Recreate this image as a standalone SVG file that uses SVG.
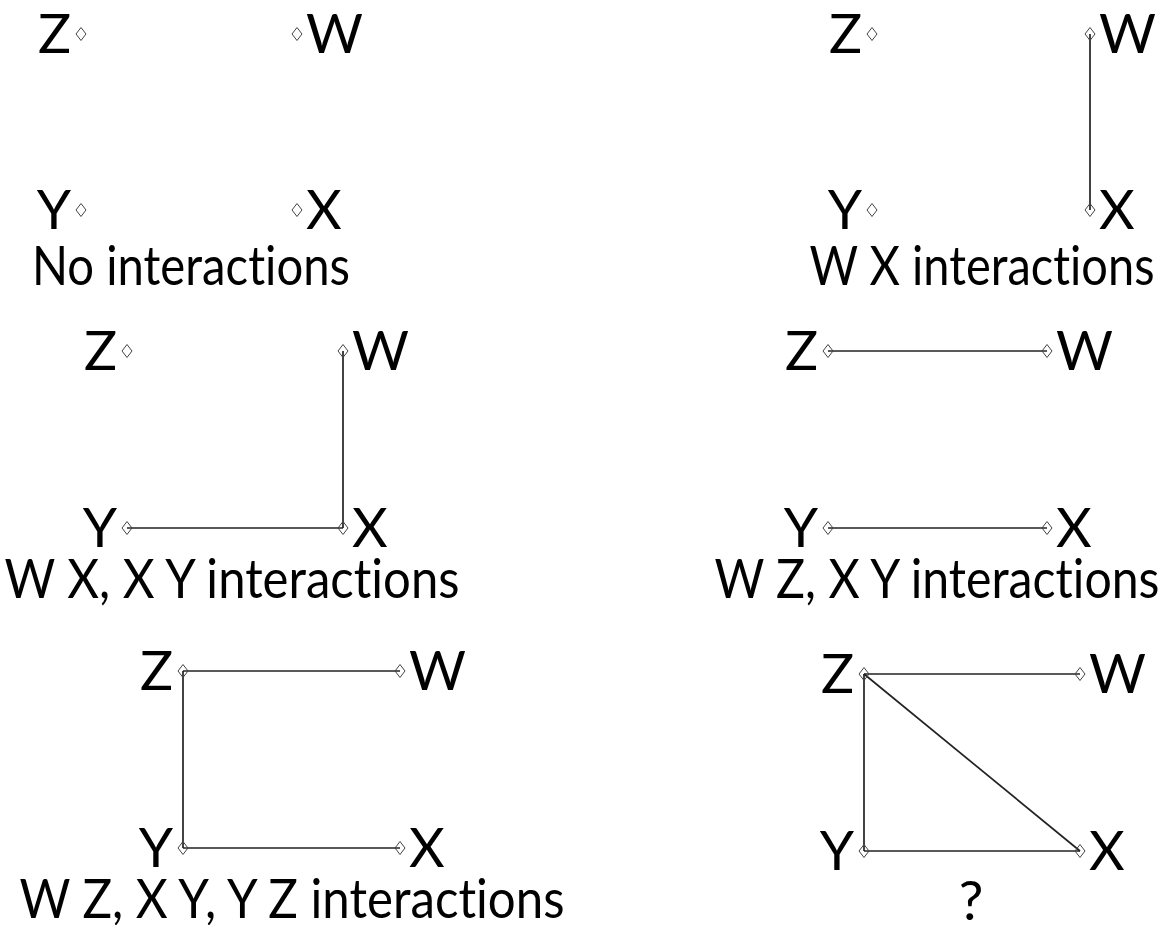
<svg xmlns="http://www.w3.org/2000/svg" width="1165" height="925" viewBox="0 0 1165 925">
<defs>
<style>
text{font-family:Lato,"Open Sans","Liberation Sans",sans-serif;fill:#000;font-variant-ligatures:none;font-feature-settings:"liga" 0,"dlig" 0,"clig" 0;}
.n{font-size:55px;}
.l{font-size:55px;text-anchor:middle;}
.e{text-anchor:end;}
.d{fill:none;stroke:#444;stroke-width:1;}
.c line{stroke:#222;stroke-width:1.7;}
</style>
<path id="dm" d="M0,-6.5 L5,0 L0,6.5 L-5,0 Z"/>
</defs>
<rect width="1165" height="925" fill="#fff"/>

<g id="connectors" class="c">
<line x1="1090" y1="34" x2="1090" y2="210"/>
<line x1="343" y1="351" x2="343" y2="528"/>
<line x1="127" y1="528" x2="343" y2="528"/>
<line x1="828" y1="351" x2="1047" y2="351"/>
<line x1="828" y1="528" x2="1047" y2="528"/>
<line x1="183" y1="671" x2="400" y2="671"/>
<line x1="183" y1="671" x2="183" y2="848"/>
<line x1="183" y1="848" x2="400" y2="848"/>
<line x1="864" y1="674" x2="1080" y2="674"/>
<line x1="864" y1="674" x2="864" y2="851"/>
<line x1="864" y1="851" x2="1080" y2="851"/>
<line x1="864" y1="674" x2="1080" y2="851"/>
</g>

<!-- Panel 1 -->
<g id="p1-Z"><use href="#dm" class="d" x="81" y="34"/><text class="n e" x="71" y="53">Z</text></g>
<g id="p1-W"><use href="#dm" class="d" x="297" y="34"/><text class="n" x="306" y="53">W</text></g>
<g id="p1-Y"><use href="#dm" class="d" x="81" y="210"/><text class="n e" x="71" y="229">Y</text></g>
<g id="p1-X"><use href="#dm" class="d" x="297" y="210"/><text class="n" x="306" y="229">X</text></g>
<text id="p1-label" class="l" x="191" y="285" textLength="318" lengthAdjust="spacingAndGlyphs">No interactions</text>

<!-- Panel 2 -->
<g id="p2-Z"><use href="#dm" class="d" x="872" y="34"/><text class="n e" x="862" y="53">Z</text></g>
<g id="p2-W"><use href="#dm" class="d" x="1090" y="34"/><text class="n" x="1099" y="53">W</text></g>
<g id="p2-Y"><use href="#dm" class="d" x="872" y="210"/><text class="n e" x="862" y="229">Y</text></g>
<g id="p2-X"><use href="#dm" class="d" x="1090" y="210"/><text class="n" x="1099" y="229">X</text></g>
<text id="p2-label" class="l" x="982" y="285" textLength="345" lengthAdjust="spacingAndGlyphs">W X interactions</text>

<!-- Panel 3 -->
<g id="p3-Z"><use href="#dm" class="d" x="127" y="351"/><text class="n e" x="117" y="370">Z</text></g>
<g id="p3-W"><use href="#dm" class="d" x="343" y="351"/><text class="n" x="352" y="370">W</text></g>
<g id="p3-Y"><use href="#dm" class="d" x="127" y="528"/><text class="n e" x="117" y="547">Y</text></g>
<g id="p3-X"><use href="#dm" class="d" x="343" y="528"/><text class="n" x="352" y="547">X</text></g>
<text id="p3-label" class="l" x="232" y="598" textLength="455" lengthAdjust="spacingAndGlyphs">W X, X Y interactions</text>

<!-- Panel 4 -->
<g id="p4-Z"><use href="#dm" class="d" x="828" y="351"/><text class="n e" x="818" y="370">Z</text></g>
<g id="p4-W"><use href="#dm" class="d" x="1047" y="351"/><text class="n" x="1056" y="370">W</text></g>
<g id="p4-Y"><use href="#dm" class="d" x="828" y="528"/><text class="n e" x="818" y="547">Y</text></g>
<g id="p4-X"><use href="#dm" class="d" x="1047" y="528"/><text class="n" x="1056" y="547">X</text></g>
<text id="p4-label" class="l" x="937" y="598" textLength="445" lengthAdjust="spacingAndGlyphs">W Z, X Y interactions</text>

<!-- Panel 5 -->
<g id="p5-Z"><use href="#dm" class="d" x="183" y="671"/><text class="n e" x="173" y="690">Z</text></g>
<g id="p5-W"><use href="#dm" class="d" x="400" y="671"/><text class="n" x="409" y="690">W</text></g>
<g id="p5-Y"><use href="#dm" class="d" x="183" y="848"/><text class="n e" x="173" y="867">Y</text></g>
<g id="p5-X"><use href="#dm" class="d" x="400" y="848"/><text class="n" x="409" y="867">X</text></g>
<text id="p5-label" class="l" x="292" y="918" textLength="545" lengthAdjust="spacingAndGlyphs">W Z, X Y, Y Z interactions</text>

<!-- Panel 6 -->
<g id="p6-Z"><use href="#dm" class="d" x="864" y="674"/><text class="n e" x="854" y="693">Z</text></g>
<g id="p6-W"><use href="#dm" class="d" x="1080" y="674"/><text class="n" x="1089" y="693">W</text></g>
<g id="p6-Y"><use href="#dm" class="d" x="864" y="851"/><text class="n e" x="854" y="870">Y</text></g>
<g id="p6-X"><use href="#dm" class="d" x="1080" y="851"/><text class="n" x="1089" y="870">X</text></g>
<text id="p6-label" class="l" x="971" y="920">?</text>
</svg>
